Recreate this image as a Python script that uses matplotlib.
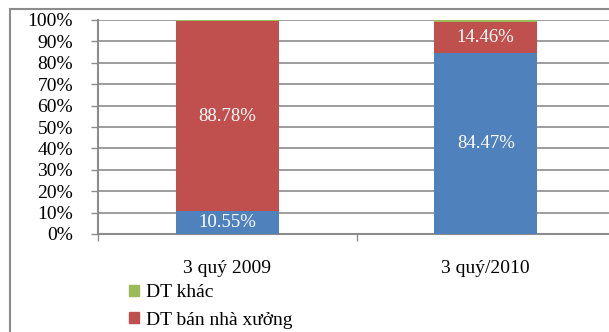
import matplotlib.pyplot as plt
from matplotlib.lines import Line2D
from matplotlib.patches import Patch
import numpy as np

plt.rcParams['font.family'] = ['Liberation Serif', 'DejaVu Serif']

categories = ['3 quý 2009', '3 quý/2010']
dt_ban_nha = [10.55, 84.47]          # blue, bottom segment
dt_ban_nha_xuong = [88.78, 14.46]    # red, middle segment
dt_khac = [0.67, 1.07]               # green, top segment

blue = '#4F81BD'
red = '#C0504D'
green = '#9BBB59'
grey = '#8C8C8C'

W, H = 609, 332
fig = plt.figure(figsize=(W / 100, H / 100), dpi=100)

# plot area runs past the right edge of the canvas
left, right, top, bottom = 98, 615, 20, 234
ax = fig.add_axes([left / W, 1 - bottom / H, (right - left) / W, (bottom - top) / H])

x = np.arange(len(categories))
b1 = np.array(dt_ban_nha)
b2 = b1 + np.array(dt_ban_nha_xuong)
ax.bar(x, dt_ban_nha, width=0.4, color=blue, zorder=3)
ax.bar(x, dt_ban_nha_xuong, width=0.4, bottom=b1, color=red, zorder=3)
ax.bar(x, dt_khac, width=0.4, bottom=b2, color=green, zorder=3)

for i in range(len(categories)):
    ax.text(x[i], b1[i] / 2, f'{dt_ban_nha[i]:.2f}%', ha='center', va='center',
            color='white', fontsize=13.5, zorder=4)
    ax.text(x[i], b1[i] + dt_ban_nha_xuong[i] / 2, f'{dt_ban_nha_xuong[i]:.2f}%',
            ha='center', va='center', color='white', fontsize=13.5, zorder=4)

ax.set_xlim(-0.5, 1.5)
ax.set_ylim(0, 100)
ax.set_yticks(np.arange(0, 101, 10))
ax.set_yticklabels([f'{v}%' for v in range(0, 101, 10)], fontsize=14)
ax.yaxis.grid(True, color=grey, linewidth=1.2, zorder=0)

ax.set_xticks(x)
ax.set_xticklabels(categories, fontsize=14)
ax.set_xticks([-0.5, 0.5, 1.5], minor=True)
ax.tick_params(axis='x', which='major', length=0, pad=19)
ax.tick_params(axis='x', which='minor', length=5, color=grey, width=1)
ax.tick_params(axis='y', length=5, color=grey, width=1, pad=13)

for s in ['top', 'right']:
    ax.spines[s].set_visible(False)
for s in ['left', 'bottom']:
    ax.spines[s].set_color(grey)
    ax.spines[s].set_linewidth(1.5)

handles = [Patch(color=green, label='DT khác'),
           Patch(color=red, label='DT bán nhà xưởng')]
fig.legend(handles=handles, loc='upper left', bbox_to_anchor=(129 / W, 1 - 284 / H),
           frameon=False, fontsize=14, handlelength=0.5, handleheight=0.5,
           handletextpad=0.35, labelspacing=0.55, borderpad=0, borderaxespad=0)

# outer chart border
fig.add_artist(Line2D([10 / W, 10 / W], [1 - 9 / H, 0], transform=fig.transFigure,
                      color=grey, linewidth=1.5))
fig.add_artist(Line2D([10 / W, 1], [1 - 9 / H, 1 - 9 / H], transform=fig.transFigure,
                      color=grey, linewidth=1.5))

fig.savefig('out.png', dpi=100)
